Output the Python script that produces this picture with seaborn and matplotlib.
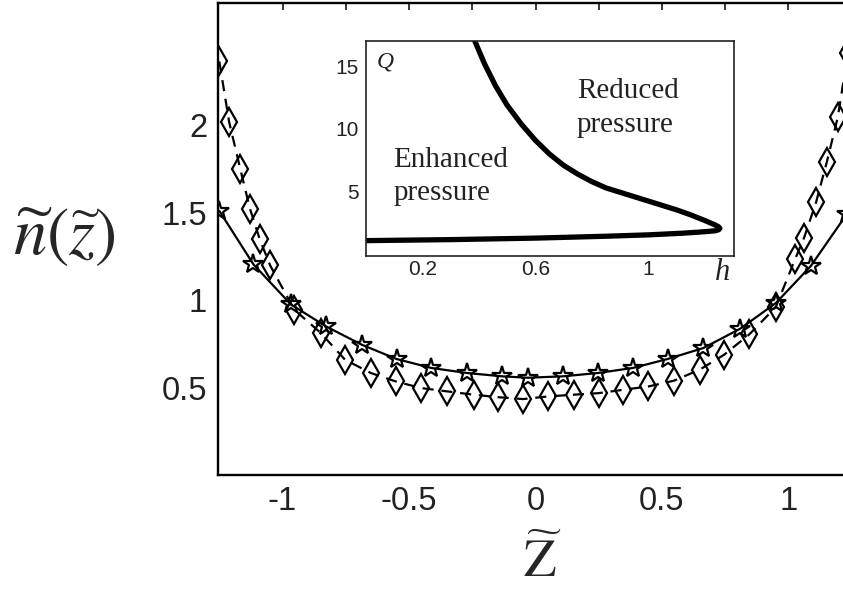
import numpy as np
import pandas as pd
import seaborn as sns
import matplotlib
matplotlib.use("Agg")
import matplotlib.pyplot as plt

# main panel: stars (solid) and diamonds (dashed)
star_z = [-1.25, -1.115, -0.967, -0.829, -0.687, -0.549, -0.412, -0.271, -0.131, -0.030,
          0.108, 0.246, 0.385, 0.522, 0.664, 0.810, 0.951, 1.088, 1.23]
star_n = [1.51, 1.204, 0.975, 0.850, 0.745, 0.663, 0.612, 0.583, 0.564, 0.556,
          0.564, 0.583, 0.612, 0.663, 0.726, 0.837, 0.984, 1.194, 1.49]

diam_z = [-1.25, -1.211, -1.167, -1.129, -1.090, -1.049, -0.954, -0.849, -0.753, -0.651,
          -0.553, -0.452, -0.349, -0.244, -0.149, -0.049, 0.049, 0.151, 0.250, 0.346,
          0.446, 0.547, 0.649, 0.746, 0.846, 0.950, 1.026, 1.062, 1.109, 1.152, 1.195, 1.235]
diam_n = [2.364, 2.017, 1.749, 1.523, 1.347, 1.198, 0.946, 0.812, 0.659, 0.583,
          0.535, 0.497, 0.478, 0.459, 0.445, 0.434, 0.449, 0.459, 0.468, 0.487,
          0.506, 0.539, 0.602, 0.688, 0.805, 0.960, 1.233, 1.357, 1.558, 1.791, 2.045, 2.41]

x_ticks = [-1, -0.75, -0.5, -0.25, 0, 0.25, 0.5, 0.75, 1]
x_labels = ['-1', '', '-0.5', '', '0', '', '0.5', '', '1']
y_ticks = [0.5, 1, 1.5, 2, 2.5]
y_labels = ['0.5', '1', '1.5', '2', '']

# inset: boundary curve Q(h), upper branch down to the nose, then lower branch back
h_curve = [0.386, 0.42, 0.46, 0.50, 0.55, 0.60, 0.65, 0.70, 0.75, 0.80, 0.85, 0.90,
           0.95, 1.00, 1.05, 1.10, 1.15, 1.20, 1.235, 1.248, 1.253, 1.249, 1.238, 1.215,
           1.18, 1.12, 1.00, 0.85, 0.60, 0.30, 0.0]
Q_curve = [17.0, 15.2, 13.4, 11.9, 10.4, 9.1, 8.0, 7.1, 6.4, 5.8, 5.3, 4.95,
           4.6, 4.25, 3.9, 3.55, 3.15, 2.7, 2.36, 2.21, 2.08, 1.97, 1.89, 1.84,
           1.78, 1.69, 1.56, 1.45, 1.30, 1.18, 1.10]

hx_ticks = [0.2, 0.4, 0.6, 0.8, 1.0, 1.2]
hx_labels = ['0.2', '', '0.6', '', '1', '']
qy_ticks = [5, 10, 15]
qy_labels = ['5', '10', '15']

sns.set_style("white")
plt.rcParams['font.family'] = ['Liberation Sans', 'DejaVu Sans']
plt.rcParams['mathtext.fontset'] = 'stix'

W, H = 843, 593
fig = plt.figure(figsize=(W / 100, H / 100), dpi=100)

ax = fig.add_axes([218.3 / W, 1 - 475 / H, (852.7 - 218.3) / W, (475 - 2.7) / H])
sns.lineplot(x=star_z, y=star_n, ax=ax, sort=False, estimator=None, color='k', lw=1.6,
             marker='*', markersize=15, markerfacecolor='none',
             markeredgecolor='k', markeredgewidth=1.6)
sns.lineplot(x=diam_z, y=diam_n, ax=ax, sort=False, estimator=None, color='k', lw=1.6,
             linestyle=(0, (5, 3.5)), marker='d', markersize=14, markerfacecolor='none',
             markeredgecolor='k', markeredgewidth=1.6)
ax.set_xlim(-1.254, 1.254)
ax.set_ylim(0, 2.70)
ax.set_xticks(x_ticks)
ax.set_xticklabels(x_labels)
ax.set_yticks(y_ticks)
ax.set_yticklabels(y_labels)
ax.tick_params(direction='in', length=5, width=1.3, top=True, right=True,
               labelsize=23.5, labelcolor='#222222', pad=8)
for s in ax.spines.values():
    s.set_linewidth(1.7)
    s.set_color('k')
ax.set_xlabel('')
ax.set_ylabel('')

fig.text(64 / W, 1 - 237 / H, r'$\widetilde{n}(\widetilde{z})$', fontsize=48,
         ha='center', va='center')
fig.text(542 / W, 1 - 562 / H, r'$\widetilde{\mathrm{Z}}$', fontsize=38,
         ha='center', va='center')

# inset
axi = fig.add_axes([365.7 / W, 1 - 255.7 / H, 368.3 / W, 214.7 / H])
axi.set_facecolor('white')
sns.lineplot(x=h_curve, y=Q_curve, ax=axi, sort=False, estimator=None, color='k',
             lw=3.8, solid_joinstyle='round')
axi.set_xlim(0, 1.303)
axi.set_ylim(-0.1, 17)
axi.set_xticks(hx_ticks)
axi.set_xticklabels(hx_labels)
axi.set_yticks(qy_ticks)
axi.set_yticklabels(qy_labels)
axi.tick_params(direction='in', length=4, width=1.0, labelsize=15,
                labelcolor='#222222', pad=3)
axi.tick_params(axis='y', pad=5)
for s in axi.spines.values():
    s.set_linewidth(1.2)
    s.set_color('#222222')
axi.set_xlabel('')
axi.set_ylabel('')

serif = ['Liberation Serif', 'DejaVu Serif']
axi.text(0.075, 0.415, 'Enhanced', transform=axi.transAxes, family=serif, fontsize=21,
         color='#222222', va='baseline')
axi.text(0.075, 0.259, 'pressure', transform=axi.transAxes, family=serif, fontsize=21,
         color='#222222', va='baseline')
axi.text(0.573, 0.733, 'Reduced', transform=axi.transAxes, family=serif, fontsize=21,
         color='#222222', va='baseline')
axi.text(0.573, 0.578, 'pressure', transform=axi.transAxes, family=serif, fontsize=21,
         color='#222222', va='baseline')
axi.text(0.052, 0.902, 'Q', transform=axi.transAxes, family=serif, style='italic',
         fontsize=17, color='#222222', ha='center', va='center')
axi.text(0.970, -0.076, 'h', transform=axi.transAxes, family=serif, style='italic',
         fontsize=22, color='#222222', ha='center', va='center')

fig.savefig('out.png', dpi=100)
